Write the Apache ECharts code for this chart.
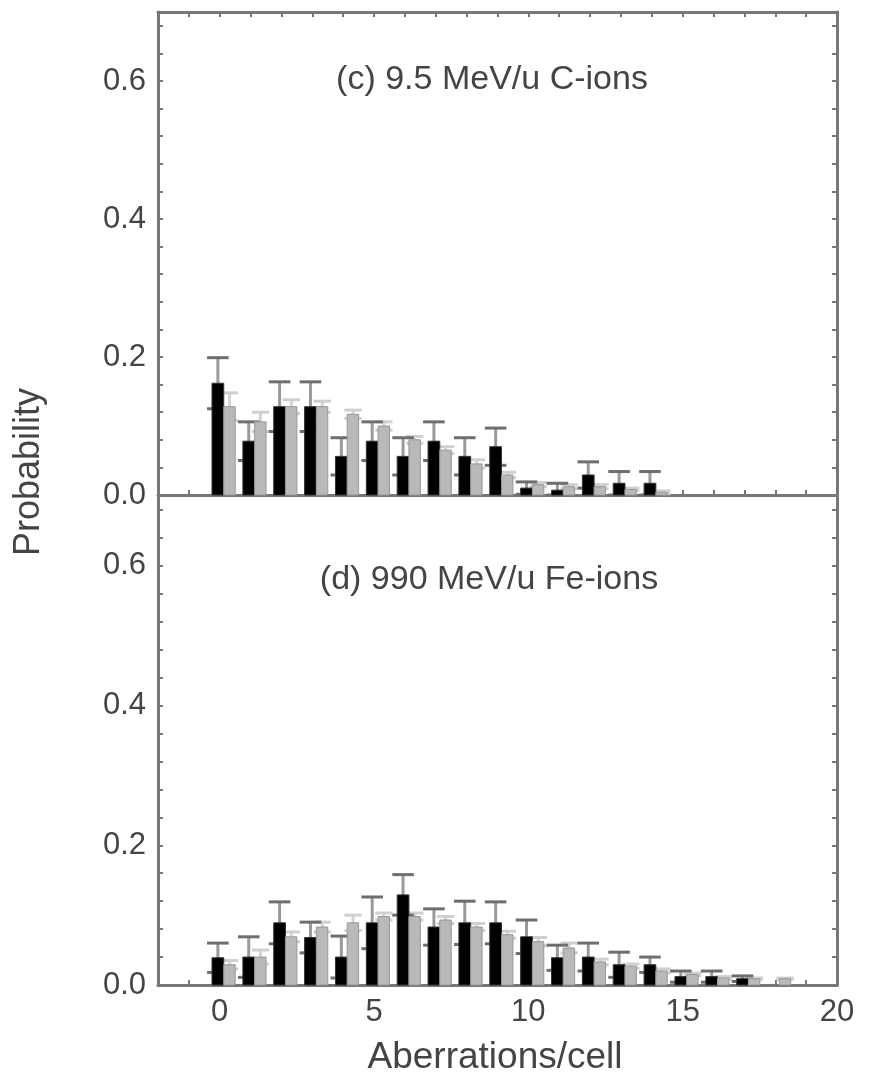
<!DOCTYPE html>
<html><head><meta charset="utf-8">
<script src="https://cdn.jsdelivr.net/npm/echarts@6/dist/echarts.min.js"></script>
<style>html,body{margin:0;padding:0;background:#fff}#c{width:869px;height:1084px}</style>
</head><body><div id="c"></div>
<script>
// ---- data ----
const aberrC = [0,1,2,3,4,5,6,7,8,9,10,11,12,13,14];
const expC    = [0.162,0.078,0.128,0.128,0.056,0.078,0.056,0.078,0.056,0.070,0.010,0.007,0.029,0.017,0.017];
const expErrC = [0.037,0.028,0.036,0.036,0.027,0.028,0.027,0.028,0.027,0.027,0.009,0.010,0.019,0.017,0.017];
const modC    = [0.128,0.106,0.128,0.128,0.117,0.100,0.080,0.065,0.045,0.029,0.015,0.012,0.012,0.008,0.004];
const modErrC = [0.020,0.014,0.010,0.008,0.006,0.006,0.005,0.005,0.006,0.004,0.003,0.003,0.003,0.002,0.002];

const aberrD = [0,1,2,3,4,5,6,7,8,9,10,11,12,13,14,15,16,17,18];
const expD    = [0.039,0.040,0.089,0.068,0.040,0.089,0.129,0.083,0.089,0.089,0.069,0.039,0.040,0.029,0.029,0.012,0.012,0.009,0];
const expErrD = [0.021,0.029,0.030,0.022,0.030,0.037,0.029,0.026,0.031,0.030,0.024,0.018,0.020,0.018,0.011,0.008,0.008,0.004,0];
const modD    = [0.029,0.040,0.069,0.083,0.089,0.098,0.098,0.093,0.083,0.072,0.062,0.053,0.033,0.027,0.020,0.015,0.010,0.009,0.009];
const modErrD = [0.006,0.010,0.007,0.007,0.011,0.005,0.005,0.005,0.005,0.005,0.006,0.007,0.004,0.003,0.003,0.002,0.002,0.001,0.001];

const xLabelValues = [0,5,10,15,20];
const yLabelValues = [0,0.2,0.4,0.6];
const panelTitles = ['(c) 9.5 MeV/u C-ions','(d) 990 MeV/u Fe-ions'];
const xName = 'Aberrations/cell';
const yName = 'Probability';

// ---- rendering ----
const FONT = '"Liberation Sans", Arial, sans-serif';
const TXT = '#444';
const LINE = '#777';

function barItem(off0, off1, fill, stroke) {
  return function (params, api) {
    const x = api.value(0), v = api.value(1);
    if (!(v > 0)) return;
    const p0 = api.coord([x + off0, v]);
    const p1 = api.coord([x + off1, 0]);
    return {type:'rect', shape:{x:p0[0], y:p0[1], width:p1[0]-p0[0], height:p1[1]-p0[1]},
      style:{fill:fill, stroke:stroke, lineWidth:1}};
  };
}
function errItem(off, halfCap, whisk, cap, lw) {
  return function (params, api) {
    const x = api.value(0), v = api.value(1), e = api.value(2);
    if (!(v > 0) || !(e > 0)) return;
    const top = api.coord([x + off, v + e]);
    const bot = api.coord([x + off, Math.max(v - e, 0)]);
    const cl = api.coord([x + off - halfCap, v]);
    const cr = api.coord([x + off + halfCap, v]);
    return {type:'group', children:[
      {type:'line', shape:{x1:top[0],y1:top[1],x2:bot[0],y2:bot[1]}, style:{stroke:whisk,lineWidth:lw}},
      {type:'line', shape:{x1:cl[0],y1:top[1],x2:cr[0],y2:top[1]}, style:{stroke:cap,lineWidth:lw}},
      {type:'line', shape:{x1:cl[0],y1:bot[1],x2:cr[0],y2:bot[1]}, style:{stroke:cap,lineWidth:lw}}
    ]};
  };
}
function zip(xs, vs, es) { return xs.map((x,i)=>[x, vs[i], es[i]]); }

function panelSeries(xi, yi, xs, ev, ee, mv, me) {
  const base = {type:'custom', xAxisIndex:xi, yAxisIndex:yi, encode:{x:0,y:1}, silent:true, clip:false};
  return [
    Object.assign({}, base, {z:1, data:zip(xs,mv,me), renderItem:errItem(0.32,0.28,'#d4d4d4','#cfcfcf',3)}),
    Object.assign({}, base, {z:2, data:zip(xs,ev,ee), renderItem:errItem(-0.06,0.35,'#9a9a9a','#6e6e6e',3)}),
    Object.assign({}, base, {z:3, data:zip(xs,ev,ee), renderItem:barItem(-0.25,0.13,'#000','#333')}),
    Object.assign({}, base, {z:4, data:zip(xs,mv,me), renderItem:barItem(0.13,0.5,'#b9b9b9','#979797')})
  ];
}

function axisLine() { return {show:true, onZero:false, lineStyle:{color:LINE, width:3}}; }
function xAx(grid, pos, labels) {
  return {type:'value', gridIndex:grid, position:pos, min:-2, max:20, interval:1,
    axisLine:axisLine(), splitLine:{show:false},
    axisTick:{show:true, inside:true, length:5, lineStyle:{color:LINE, width:2}},
    axisLabel: labels ? {show:true, customValues:xLabelValues, margin:12,
      fontFamily:FONT, fontSize:31, color:TXT} : {show:false}};
}
function yAx(grid, pos, labels) {
  return {type:'value', gridIndex:grid, position:pos, min:0, max:0.7, interval:0.04,
    axisLine:axisLine(), splitLine:{show:false},
    axisTick:{show:true, inside:true, length:5, lineStyle:{color:LINE, width:2}},
    axisLabel: labels ? {show:true, customValues:yLabelValues, margin:12,
      formatter:v=>Number(v).toFixed(1), fontFamily:FONT, fontSize:31, color:TXT} : {show:false}};
}

const chart = echarts.init(document.getElementById('c'), null, {renderer:'canvas'});
chart.setOption({
  animation:false,
  backgroundColor:'#fff',
  grid:[
    {left:158, top:12, width:679, height:483},
    {left:158, top:496, width:679, height:489}
  ],
  xAxis:[ xAx(0,'bottom',false), xAx(0,'top',false), xAx(1,'bottom',true) ],
  yAxis:[ yAx(0,'left',true), yAx(0,'right',false), yAx(1,'left',true), yAx(1,'right',false) ],
  series:[].concat(
    panelSeries(0,0,aberrC,expC,expErrC,modC,modErrC),
    panelSeries(2,2,aberrD,expD,expErrD,modD,modErrD)
  ),
  graphic:[
    {type:'text', x:492, y:80, style:{text:panelTitles[0], fontFamily:FONT, fontSize:34, fill:TXT, align:'center', verticalAlign:'middle'}},
    {type:'text', x:489, y:580, style:{text:panelTitles[1], fontFamily:FONT, fontSize:34, fill:TXT, align:'center', verticalAlign:'middle'}},
    {type:'text', x:495, y:1058, style:{text:xName, fontFamily:FONT, fontSize:37, fill:TXT, align:'center', verticalAlign:'middle'}},
    {type:'text', x:29, y:472, rotation:Math.PI/2, style:{text:yName, fontFamily:FONT, fontSize:36, fill:TXT, align:'center', verticalAlign:'middle'}}
  ]
});
</script></body></html>
